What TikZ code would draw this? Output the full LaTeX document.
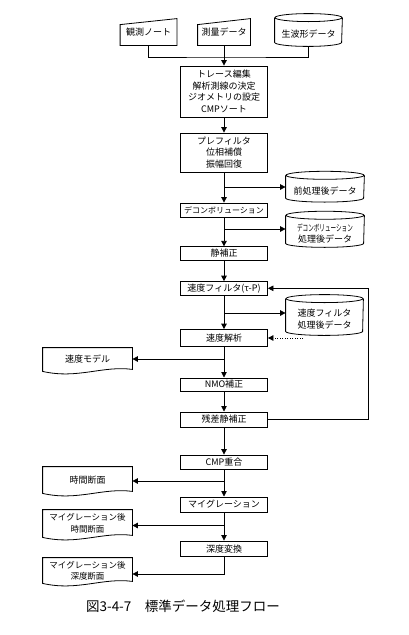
\documentclass[tikz,border=0pt]{standalone}
\usepackage{fontspec}
\setmainfont{Noto Sans CJK JP}
\newfontfamily\narrowjp[FakeStretch=0.62]{Noto Sans CJK JP}
\usetikzlibrary{arrows.meta}

\begin{document}
\begin{tikzpicture}[x=1pt,y=-1pt,inner sep=0,line width=0.8pt,
    font=\fontsize{9}{11.5}\selectfont,
    arr/.style={-{Triangle[width=5.5pt,length=5.5pt]}},
    box/.style={draw,align=center,minimum width=87pt},
    doc/.style={align=center,minimum width=89pt},
    db/.style={align=center}]
  \useasboundingbox (0,0) rectangle (409,635);
  % inputs
  \node[align=center,minimum width=56pt,minimum height=26pt] (m1) at (148.5,32) {観測ノート};
  \node[align=center,minimum width=52pt,minimum height=26pt] (m2) at (224,32) {測量データ};
  \node[db,minimum width=67pt,minimum height=24pt] (c0) at (308.5,34) {生波形データ};
  % main flow
  \node[box,minimum height=51pt] (b1) at (224,91.5) {トレース編集\\解析測線の決定\\ジオメトリの設定\\CMPソート};
  \node[box,minimum height=39pt] (b2) at (224,152.5) {プレフィルタ\\位相補償\\振幅回復};
  \node[box,minimum height=14pt,font=\fontsize{8}{10}\selectfont] (b3) at (224,210) {デコンボリューション};
  \node[box,minimum height=13.5pt] (b4) at (224,253.5) {静補正};
  \node[box,minimum height=13.5pt] (b5) at (224,288.3) {速度フィルタ(τ-P)};
  \node[box,minimum height=17pt] (b6) at (224,338) {速度解析};
  \node[box,minimum height=13pt] (b7) at (224,384.4) {NMO補正};
  \node[box,minimum height=15pt] (b8) at (224,419.4) {残差静補正};
  \node[box,minimum height=14pt] (b9) at (224,462) {CMP重合};
  \node[box,minimum height=15pt] (b10) at (224,504.4) {マイグレーション};
  \node[box,minimum height=15.5pt] (b11) at (224,548.7) {深度変換};
  % stored data
  \node[db,minimum width=78pt,minimum height=22pt] (c1) at (325,190.7) {前処理後データ};
  \node[db,minimum width=78pt,minimum height=27.3pt] (c2) at (325,233.3) {{\narrowjp デコンボリューション}\\処理後データ};
  \node[db,minimum width=77pt,minimum height=32pt] (c3) at (324.5,319) {速度フィルタ\\処理後データ};
  % outputs
  \node[doc,minimum height=23pt] (d1) at (87.5,359.5) {速度モデル};
  \node[doc,minimum height=26pt] (d2) at (87.5,480) {時間断面};
  \node[doc,minimum height=27pt,font=\fontsize{8.5}{12}\selectfont] (d3) at (87.5,523.5) {マイグレーション後\\時間断面};
  \node[doc,minimum height=25pt,font=\fontsize{8.5}{11}\selectfont] (d4) at (87.5,570.5) {マイグレーション後\\深度断面};
  \node[font=\fontsize{13.5}{15}\selectfont] (cap) at (183,606) {図3-4-7　標準データ処理フロー};

  % outlines
  \foreach \m in {m1,m2}
    \draw ([yshift=-6pt]\m.north west) -- (\m.north east) -- (\m.south east) -- (\m.south west) -- cycle;
  \foreach \c/\r in {c0/33.5,c1/39,c2/39,c3/38.5}{
    \draw ([yshift=4pt]\c.north west) -- ([yshift=4pt]\c.south west)
      arc[start angle=180,end angle=360,x radius=\r*1pt,y radius=4pt] -- ([yshift=4pt]\c.north east);
    \draw ([yshift=4pt]\c.north) ellipse[x radius=\r*1pt,y radius=4pt];
  }
  \foreach \d in {d1,d2,d3,d4}
    \draw (\d.north west) -- (\d.north east) -- ([yshift=2pt]\d.south east)
      .. controls +(-30,-4) and +(35,8) .. (\d.south west) -- cycle;

  % connectors
  \coordinate (j0) at (224,57);
  \draw (m1.south) |- (j0) -| (c0.south);
  \draw[arr] (m2.south) -- (b1.north);
  \draw[arr] (b1) -- (b2);
  \draw[arr] (b2) -- (b3);
  \draw[arr] (b3) -- (b4);
  \draw[arr] (b4) -- (b5);
  \draw[arr] (b5) -- (b6);
  \draw[arr] (b6) -- (b7);
  \draw[arr] (b7) -- (b8);
  \draw[arr] (b8) -- (b9);
  \draw[arr] (b9) -- (b10);
  \draw[arr] (b10) -- (b11);
  \coordinate (j1) at (224,187);
  \coordinate (j2) at (224,229);
  \coordinate (j3) at (224,313);
  \draw[arr] (j1) -- (j1 -| c1.west);
  \draw[arr] (j2) -- (j2 -| c2.west);
  \draw[arr] (j3) -- (j3 -| c3.west);
  \coordinate (fb) at (368,288.3);
  \draw[arr] (b8.east) -| (fb) -- (b5.east);
  \coordinate (vm) at (303,338);
  \draw[arr,dash pattern=on 1pt off 1.5pt] (vm) -- (b6.east);
  \coordinate (j4) at (224,359);
  \coordinate (j5) at (224,481);
  \coordinate (j6) at (224,525.5);
  \coordinate (j7) at (224,574);
  \draw[arr] (j4) -- (j4 -| d1.east);
  \draw[arr] (j5) -- (j5 -| d2.east);
  \draw[arr] (j6) -- (j6 -| d3.east);
  \draw[arr] (b11.south) |- (j7 -| d4.east);
\end{tikzpicture}
\end{document}
